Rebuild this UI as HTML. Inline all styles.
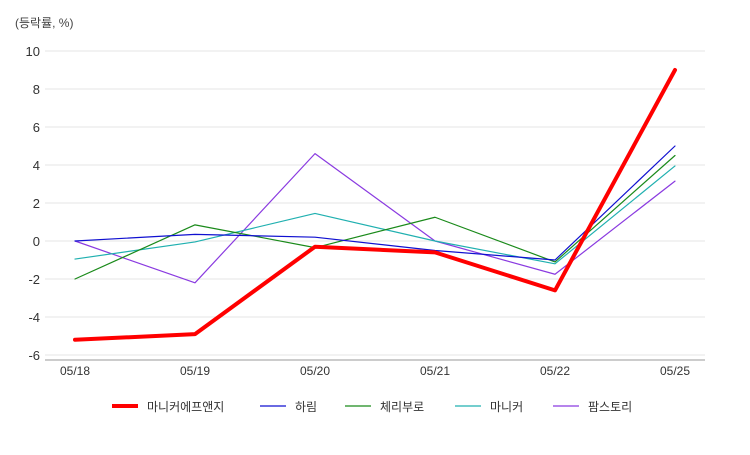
<!DOCTYPE html>
<html><head><meta charset="utf-8"><style>
body{margin:0;background:#fff;font-family:"Liberation Sans","Noto Sans CJK KR",sans-serif;}
svg text{font-family:"Liberation Sans","Noto Sans CJK KR",sans-serif;}
</style></head><body>
<svg id="chart" width="750" height="450">
<text x="15" y="27" font-size="12" fill="#444">(등락률, %)</text>
<g id="grid"></g><g id="series"></g><g id="legend"></g>
</svg>
<script>
const categories=["05/18","05/19","05/20","05/21","05/22","05/25"];
const yTicks=[10,8,6,4,2,0,-2,-4,-6];
const seriesNames=["마니커에프앤지","하림","체리부로","마니커","팜스토리"];
const s0=[-5.2,-4.9,-0.3,-0.6,-2.6,9.0];
const s1=[0,0.35,0.2,-0.5,-1.0,5.0];
const s2=[-2.0,0.85,-0.35,1.25,-1.1,4.5];
const s3=[-0.95,-0.05,1.45,0.0,-1.2,3.95];
const s4=[0,-2.2,4.6,0.0,-1.75,3.15];
const seriesValues=[s0,s1,s2,s3,s4];
const colors=["#f00","#1010d0","#1a8a1a","#20b0b0","#8a3ae0"];
const widths=[4,1.2,1.2,1.2,1.2];
const ns="http://www.w3.org/2000/svg";
const x=i=>75+i*120;
const y=v=>241-v*19;
const grid=document.getElementById('grid');
function mk(t,a,p){const e=document.createElementNS(ns,t);for(const k in a)e.setAttribute(k,a[k]);p.appendChild(e);return e;}
yTicks.forEach(v=>{
 const l=mk('line',{x1:45,x2:705,y1:y(v),y2:y(v),stroke:'#e6e6e6'},grid);
 
 
 const t=mk('text',{x:40,y:y(v)+5,'text-anchor':'end','font-size':13,fill:'#333'},grid);
 t.textContent=v;
 
 
});
const ax=mk('line',{x1:45,x2:705,y1:360,y2:360,stroke:'#999'},grid);


categories.forEach((c,i)=>{
 const t=mk('text',{x:x(i),y:375,'text-anchor':'middle','font-size':12,fill:'#333'},grid);
 t.textContent=c;
 
 
});
const sg=document.getElementById('series');
[4,3,2,1,0].forEach(k=>{
 const p=mk('polyline',{points:seriesValues[k].map((v,i)=>x(i)+','+y(v)).join(' '),fill:'none',stroke:colors[k],'stroke-width':widths[k],'stroke-linejoin':'round','stroke-linecap':'round'},sg);
 
 
});
const lg=document.getElementById('legend');
const lx=[112,260,345,455,553];
seriesNames.forEach((n,k)=>{
 const g=mk('g',{},lg);
 
 
 mk('line',{x1:lx[k],x2:lx[k]+26,y1:406,y2:406,stroke:colors[k],'stroke-width':widths[k]},g);
 const t=mk('text',{x:lx[k]+35,y:411,'font-size':12,fill:'#333'},g);
 t.textContent=n;
});
</script>
</body></html>
